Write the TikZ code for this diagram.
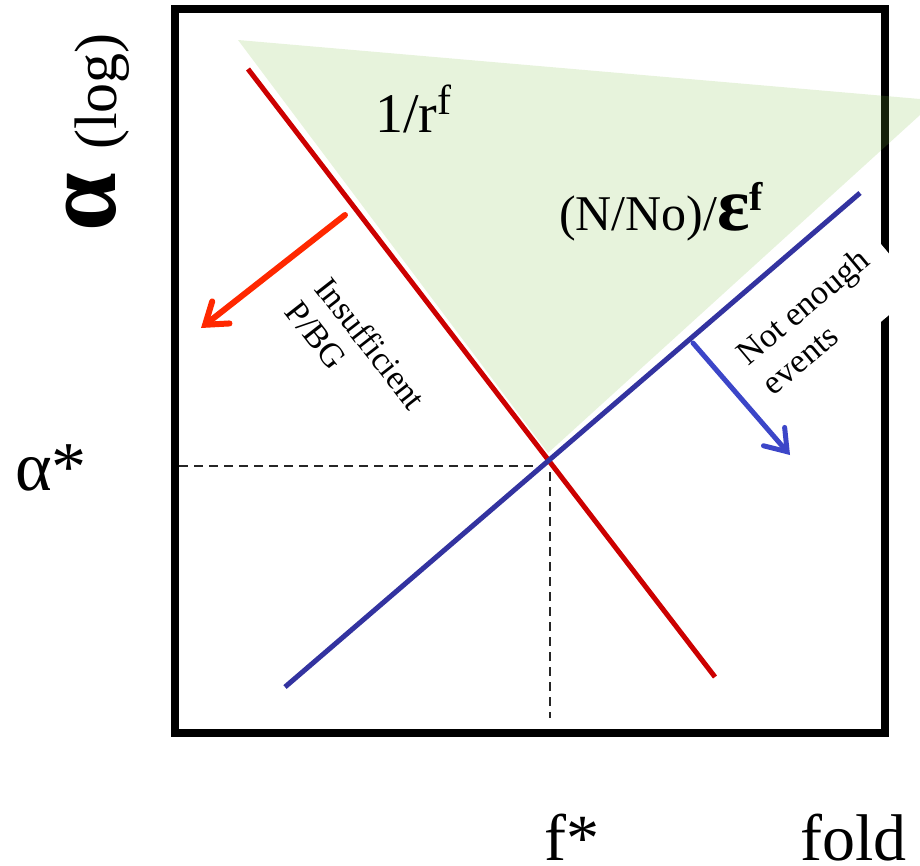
\documentclass[tikz,border=0pt]{standalone}
\usepackage{fontspec}
\setmainfont{Liberation Serif}
\usetikzlibrary{arrows.meta}
\definecolor{redline}{RGB}{204,0,0}
\definecolor{blueline}{RGB}{51,51,160}
\definecolor{redarrow}{RGB}{255,40,0}
\definecolor{bluearrow}{RGB}{60,70,200}
\definecolor{greenfill}{RGB}{120,190,60}
\begin{document}
\begin{tikzpicture}[x=1pt,y=-1pt,
  frame/.style={line width=8pt},
  curve/.style={line width=5pt},
  guide/.style={line width=2pt, dash pattern=on 9pt off 6pt, black!85},
  arr/.style={line cap=round, -{Straight Barb[length=20pt,width=28pt,line cap=round]}},
  lbl/.style={inner sep=0pt}
]
\useasboundingbox (0,0) rectangle (920,865);
% frame
\draw[frame] (175,9) rectangle (884.5,733);
% white label box covering part of the frame
\node[fill=white, rotate=40, align=left, minimum width=200pt, minimum height=86pt, inner sep=0pt,
      font=\fontsize{34}{39}\selectfont] (ne) at (815,321) {Not enough\\events};
% green region
\fill[greenfill, fill opacity=0.18] (238,40) -- (920,99) -- (920,115) -- (548,453) -- cycle;
% guides
\coordinate (hstart) at (179,466);
\coordinate (hend) at (545,466);
\coordinate (vstart) at (550,472);
\coordinate (vend) at (550,718);
\draw[guide] (hstart) -- (hend);
\draw[guide] (vstart) -- (vend);
% lines
\coordinate (r1) at (248,69);
\coordinate (r2) at (715,677);
\coordinate (b1) at (285,687);
\coordinate (b2) at (860,193);
\draw[curve, redline] (r1) -- (r2);
\draw[curve, blueline] (b1) -- (b2);
% arrows
\coordinate (ra1) at (345,215);
\coordinate (ra2) at (201,328);
\coordinate (ba1) at (693,343);
\coordinate (ba2) at (790,455);
\draw[arr, redarrow, line width=6pt] (ra1) -- (ra2);
\draw[arr, bluearrow, line width=5pt] (ba1) -- (ba2);
% texts
\node[lbl, rotate=-52, align=left, font=\fontsize{34}{38}\selectfont] (ins) at (356,355) {Insufficient\\P/BG};
\node[lbl, anchor=base west, font=\fontsize{56}{56}\selectfont] (rf) at (375,132)
  {1/r\raisebox{18pt}{\fontsize{42}{42}\selectfont f}};
\node[lbl, anchor=base west, font=\fontsize{50}{50}\selectfont] (nno) at (559,230)
  {(N/No)/{\bfseries\fontsize{76}{76}\selectfont ε}\raisebox{20pt}{\bfseries\fontsize{40}{40}\selectfont f}};
\node[lbl, anchor=base west, font=\fontsize{70}{70}\selectfont] (astar) at (15,490) {α*};
\node[lbl, anchor=base west, rotate=90, font=\bfseries\fontsize{105}{105}\selectfont] (alog) at (115,232) {α};
\node[lbl, anchor=base west, rotate=90, font=\fontsize{60}{60}\selectfont] (logt) at (116,150) {(log)};
\node[lbl, anchor=base west, font=\fontsize{66}{66}\selectfont] (fstar) at (544,860) {f*};
\node[lbl, anchor=base east, font=\fontsize{66}{66}\selectfont] (fold) at (907,860) {fold};
\end{tikzpicture}
\end{document}
